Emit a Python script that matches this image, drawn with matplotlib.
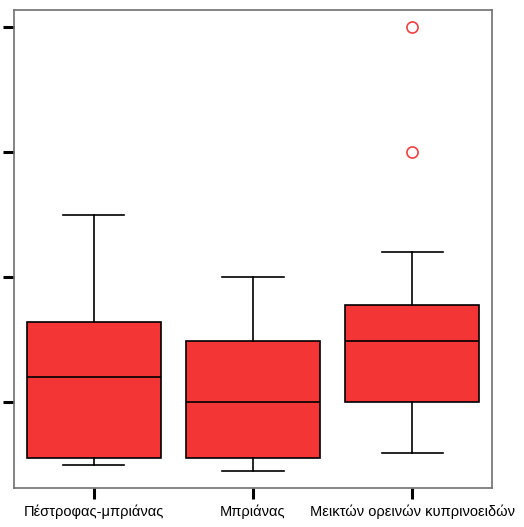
import matplotlib
matplotlib.use("Agg")
import matplotlib.pyplot as plt

# per-group summary statistics (whisker low, Q1, median, Q3, whisker high)
groups = ["Πέστροφας-μπριάνας", "Μπριάνας", "Μεικτών ορεινών κυπρινοειδών"]
whislo = [0.50, 0.45, 0.59]
q1 = [0.55, 0.55, 1.00]
med = [1.20, 1.00, 1.49]
q3 = [1.64, 1.49, 1.78]
whishi = [2.50, 2.00, 2.20]
fliers = [[], [], [3.0, 4.0]]

yticks = [1, 2, 3, 4]

stats = []
for i, name in enumerate(groups):
    stats.append(dict(label=name, whislo=whislo[i], q1=q1[i], med=med[i],
                      q3=q3[i], whishi=whishi[i], fliers=fliers[i]))

fig = plt.figure(figsize=(5.24, 5.27), dpi=100)
ax = fig.add_axes([14/524, 39/527, 478/524, 478/527])

ax.bxp(stats, positions=[1, 2, 3], widths=0.843, patch_artist=True,
       boxprops=dict(facecolor="#f43535", edgecolor="black", linewidth=1.2),
       medianprops=dict(color="black", linewidth=1.2),
       whiskerprops=dict(color="black", linewidth=1.2),
       capprops=dict(color="black", linewidth=1.2),
       capwidths=0.384,
       flierprops=dict(marker="o", markerfacecolor="none", markeredgecolor="#f04040",
                       markersize=8, markeredgewidth=1.2))

ax.set_xlim(0.5, 3.5)
ax.set_ylim(0.312, 4.136)
ax.set_yticks(yticks)
ax.set_yticklabels([])
ax.set_xticks([1, 2, 3])
ax.set_xticklabels(groups, fontsize=10.5, family="Liberation Sans")
ax.tick_params(axis="both", length=8, width=2.2, color="black", direction="out")
ax.tick_params(axis="x", pad=4)

for s in ax.spines.values():
    s.set_color("#707070")
    s.set_linewidth(1.2)

fig.savefig("out.png", dpi=100)
